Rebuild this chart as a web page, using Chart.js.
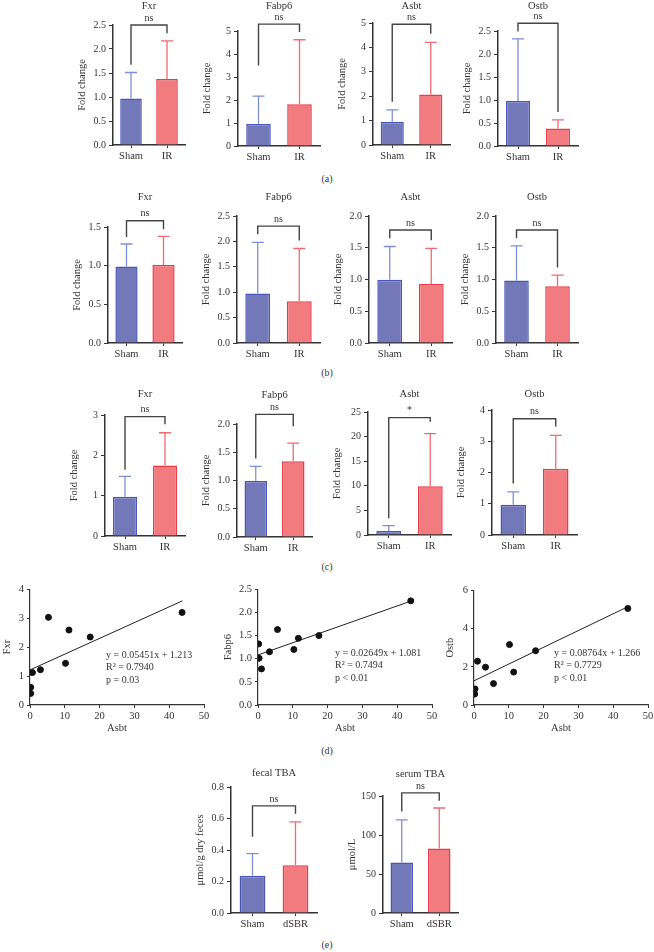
<!DOCTYPE html>
<html>
<head>
<meta charset="utf-8">
<script src="https://cdn.jsdelivr.net/npm/chart.js@4.4.0/dist/chart.umd.min.js"></script>
<style>
body { margin:0; background:#fff; width:654px; height:952px; position:relative; overflow:hidden; font-family:"Liberation Serif", serif; }
canvas { position:absolute; }
.panel { position:absolute; font-size:10px; color:#333; transform:translate(-50%,-50%); }
</style>
</head>
<body>
<div class="panel" style="left:327px;top:178px">(a)</div>
<div class="panel" style="left:327px;top:372px">(b)</div>
<div class="panel" style="left:327px;top:566px">(c)</div>
<div class="panel" style="left:327px;top:750px">(d)</div>
<div class="panel" style="left:327px;top:944px">(e)</div>
<script>
// ---- data ----
var genes = ['Fxr', 'Fabp6', 'Asbt', 'Ostb'];
var groups = ['Sham', 'IR'];
var groupsE = ['Sham', 'dSBR'];

// (a)
var aMean = [[0.97, 1.375], [0.96, 1.81], [0.95, 2.07], [0.98, 0.38]];
var aErr  = [[1.51, 2.17], [2.17, 4.62], [1.44, 4.21], [2.33, 0.57]];
var aMax  = [2.5, 5, 5, 2.5];
var aStep = [0.5, 1, 1, 0.5];
var aBracket = [[2.5, 1.67, 2.33], [5.3, 3.5, 4.96], [4.95, 1.77, 4.56], [2.67, 2.49, 0.74]];
var aSig = ['ns', 'ns', 'ns', 'ns'];

// (b)
var bMean = [[0.99, 1.01], [0.975, 0.82], [0.995, 0.93], [0.985, 0.895]];
var bErr  = [[1.28, 1.38], [1.98, 1.86], [1.52, 1.49], [1.53, 1.07]];
var bMax  = [1.5, 2.5, 2, 2];
var bStep = [0.5, 0.5, 0.5, 0.5];
var bBracket = [[1.58, 1.37, 1.47], [2.30, 2.14, 2.02], [1.78, 1.65, 1.62], [1.78, 1.65, 1.19]];
var bSig = ['ns', 'ns', 'ns', 'ns'];

// (c)
var cMean = [[0.975, 1.75], [0.99, 1.34], [0.81, 9.93], [0.97, 2.12]];
var cErr  = [[1.48, 2.56], [1.25, 1.66], [1.9, 20.6], [1.38, 3.19]];
var cMax  = [3, 2, 25, 4];
var cStep = [1, 0.5, 5, 1];
var cBracket = [[2.96, 1.64, 2.77], [2.17, 1.39, 1.96], [23.85, 3.4, 23.0], [3.72, 1.65, 3.47]];
var cSig = ['ns', 'ns', '*', 'ns'];

// (d)
var fxrX   = [0.2, 0.2, 0.7, 3.0, 5.3, 10.2, 11.2, 17.3, 43.7];
var fxrY   = [0.40, 0.61, 1.12, 1.22, 3.03, 1.44, 2.59, 2.35, 3.20];
var fabp6X = [0.2, 0.3, 1.0, 3.3, 5.6, 10.3, 11.6, 17.5, 43.9];
var fabp6Y = [1.32, 1.01, 0.78, 1.15, 1.63, 1.20, 1.44, 1.50, 2.25];
var ostbX  = [0.2, 0.3, 1.0, 3.3, 5.6, 10.2, 11.4, 17.7, 44.2];
var ostbY  = [0.57, 0.84, 2.29, 1.98, 1.12, 3.16, 1.72, 2.84, 5.05];
var fxrFit   = [[0, 1.213], [43.8, 3.601]];
var fabp6Fit = [[0, 1.081], [43.9, 2.244]];
var ostbFit  = [[0, 1.266], [44.2, 5.140]];
var fxrEq   = ['y = 0.05451x + 1.213', 'R\u00b2 = 0.7940', 'p = 0.03'];
var fabp6Eq = ['y = 0.02649x + 1.081', 'R\u00b2 = 0.7494', 'p < 0.01'];
var ostbEq  = ['y = 0.08764x + 1.266', 'R\u00b2 = 0.7729', 'p < 0.01'];

// (e)
var eNames = ['fecal TBA', 'serum TBA'];
var eYTitle = ['\u03bcmol/g dry feces', '\u03bcmol/L'];
var eMean = [[0.236, 0.303], [64.8, 82.7]];
var eErr  = [[0.377, 0.579], [119.3, 134.6]];
var eMax  = [0.8, 150];
var eStep = [0.2, 50];
var eBracket = [[0.68, 0.484, 0.63], [154, 130, 144]];
var eSig = ['ns', 'ns'];

// ---- page layout (pixels) ----
var layA = [
  {ax:113, right:185, top:25, bottom:145, titleY:6},
  {ax:238, right:320, top:31, bottom:146, titleY:6},
  {ax:373, right:450, top:23, bottom:145, titleY:6},
  {ax:498, right:578, top:31, bottom:146, titleY:6}
];
var layB = [
  {ax:108, right:182, top:227, bottom:343, titleY:197},
  {ax:237, right:320, top:216, bottom:343, titleY:197},
  {ax:369, right:452, top:216, bottom:343, titleY:197},
  {ax:496, right:578, top:216, bottom:343, titleY:197}
];
var layC = [
  {ax:105, right:185, top:415, bottom:536, titleY:394},
  {ax:237, right:312, top:424, bottom:537, titleY:395},
  {ax:368, right:451, top:412, bottom:535, titleY:394},
  {ax:492, right:577, top:410, bottom:535, titleY:394}
];
var layE = [
  {ax:231, right:317, top:787, bottom:913, titleY:773},
  {ax:383, right:458, top:796, bottom:913, titleY:774}
];
var layD = [
  {ax:30, right:204, top:588, bottom:705, ytd:23, eqX:76, eqY:655},
  {ax:258, right:432, top:588, bottom:705, ytd:30, eqX:77, eqY:653},
  {ax:474, right:648, top:589, bottom:705, ytd:24, eqX:80, eqY:653}
];

var blueFill = '#7378b8', blueLine = '#4a56b8', blueErr = '#7d8fd6';
var redFill = '#f27b7f', redLine = '#ea3c48', redErr = '#f06a72';
var axisCol = '#333', textCol = '#333';
var FONT = '"Liberation Serif", serif';

Chart.defaults.font.family = FONT;
Chart.defaults.font.size = 10;
Chart.defaults.color = textCol;

function addCanvas(left, top, w, h) {
  var cv = document.createElement('canvas');
  cv.width = w; cv.height = h;
  cv.style.left = left + 'px'; cv.style.top = top + 'px';
  cv.style.width = w + 'px'; cv.style.height = h + 'px';
  document.body.appendChild(cv);
  return cv;
}

function decimals(step) {
  return step < 1 ? 1 : 0;
}

function barChart(L, title, labels, mean, err, yMax, yStep, yTitle, bracket, sig) {
  var left = L.ax - 50, top = L.titleY - 9;
  var w = L.right - left + 8, h = L.bottom - top + 26;
  var cv = addCanvas(left, top, w, h);
  var dec = decimals(yStep);

  var extras = {
    id: 'extras',
    afterDatasetsDraw: function(chart) {
      var ctx = chart.ctx, ys = chart.scales.y, xs = chart.scales.x;
      var meta = chart.getDatasetMeta(0);
      ctx.save();
      // error bars
      meta.data.forEach(function(bar, i) {
        var yt = ys.getPixelForValue(err[i]);
        ctx.strokeStyle = i == 0 ? blueErr : redErr;
        ctx.lineWidth = 1.3;
        ctx.beginPath();
        ctx.moveTo(bar.x, bar.y);
        ctx.lineTo(bar.x, yt);
        ctx.moveTo(bar.x - 6, yt);
        ctx.lineTo(bar.x + 6, yt);
        ctx.stroke();
      });
      // bracket
      var x0 = xs.getPixelForValue(0), x1 = xs.getPixelForValue(1);
      var yb = ys.getPixelForValue(bracket[0]);
      ctx.strokeStyle = '#444';
      ctx.lineWidth = 1.4;
      ctx.beginPath();
      ctx.moveTo(x0, ys.getPixelForValue(bracket[1]));
      ctx.lineTo(x0, yb);
      ctx.lineTo(x1, yb);
      ctx.lineTo(x1, ys.getPixelForValue(bracket[2]));
      ctx.stroke();
      ctx.fillStyle = textCol;
      ctx.textAlign = 'center';
      ctx.textBaseline = 'middle';
      ctx.font = '10px ' + FONT;
      ctx.fillText(sig, (x0 + x1) / 2, yb - 7);
      // title
      ctx.font = '10.5px ' + FONT;
      ctx.fillText(title, (chart.chartArea.left + chart.chartArea.right) / 2, L.titleY - top);
      ctx.restore();
    }
  };

  new Chart(cv, {
    type: 'bar',
    data: {
      labels: labels,
      datasets: [{
        data: mean,
        backgroundColor: [blueFill, redFill],
        borderColor: [blueLine, redLine],
        borderWidth: 1.5,
        barPercentage: 0.6,
        categoryPercentage: 1
      }]
    },
    options: {
      responsive: false,
      animation: false,
      devicePixelRatio: 1,
      layout: { padding: { top: L.top - top, right: 8, left: 0, bottom: 0 } },
      plugins: { legend: { display: false }, tooltip: { enabled: false } },
      scales: {
        x: {
          grid: { drawOnChartArea: false, offset: false, tickLength: 3, color: axisCol },
          border: { color: axisCol, width: 1.5 },
          ticks: { padding: 2, color: textCol, font: { size: 10.5 } },
          afterFit: function(s) { s.height = 26; }
        },
        y: {
          min: 0, max: yMax,
          ticks: { stepSize: yStep, padding: 3, color: textCol, font: { size: 10 },
                   callback: function(v) { return v.toFixed(dec); } },
          grid: { drawOnChartArea: false, tickLength: 4, color: axisCol },
          border: { color: axisCol, width: 1.5 },
          title: { display: true, text: yTitle, color: textCol, font: { size: 10.5 }, padding: { top: 13 } },
          afterFit: function(s) { s.width = 50; }
        }
      }
    },
    plugins: [extras]
  });
}

function scatterChart(L, xs, ys, fit, eq, yTitle, yMax, yStep) {
  var left = L.ax - 34, top = L.top - 8;
  var w = L.right - left + 10, h = L.bottom - top + 30;
  var cv = addCanvas(left, top, w, h);
  var dec = decimals(yStep);
  var pts = xs.map(function(x, i) { return { x: x, y: ys[i] }; });

  var eqText = {
    id: 'eqText',
    afterDatasetsDraw: function(chart) {
      var ctx = chart.ctx;
      ctx.save();
      ctx.fillStyle = textCol;
      ctx.font = '10px ' + FONT;
      ctx.textAlign = 'left';
      ctx.textBaseline = 'middle';
      eq.forEach(function(t, i) {
        ctx.fillText(t, chart.chartArea.left + L.eqX, L.eqY - top + i * 12.5);
      });
      ctx.restore();
    }
  };

  new Chart(cv, {
    type: 'scatter',
    data: {
      datasets: [
        { data: pts, backgroundColor: '#111', borderColor: '#111', pointRadius: 3, pointHoverRadius: 3 },
        { type: 'line', data: fit.map(function(p) { return { x: p[0], y: p[1] }; }),
          borderColor: '#222', borderWidth: 1, pointRadius: 0, fill: false }
      ]
    },
    options: {
      responsive: false,
      animation: false,
      devicePixelRatio: 1,
      layout: { padding: { top: 8, right: 10, left: 0, bottom: 0 } },
      plugins: { legend: { display: false }, tooltip: { enabled: false } },
      scales: {
        x: {
          type: 'linear', min: 0, max: 50,
          ticks: { stepSize: 10, padding: 2, color: textCol, font: { size: 10.5 } },
          grid: { drawOnChartArea: false, tickLength: 3, color: axisCol },
          border: { color: axisCol, width: 1.2 },
          title: { display: true, text: 'Asbt', color: textCol, font: { size: 10.5 }, padding: { top: 0, bottom: 0 } },
          afterFit: function(s) { s.height = 30; }
        },
        y: {
          min: 0, max: yMax,
          ticks: { stepSize: yStep, padding: 3, color: textCol, font: { size: 10.5 },
                   callback: function(v) { return v.toFixed(dec); } },
          grid: { drawOnChartArea: false, tickLength: 3, color: axisCol },
          border: { color: axisCol, width: 1.2 },
          title: { display: true, text: yTitle, color: textCol, font: { size: 10.5 }, padding: { top: 34 - L.ytd - 6 } },
          afterFit: function(s) { s.width = 34; }
        }
      }
    },
    plugins: [eqText]
  });
}

for (var i = 0; i < 4; i++) {
  barChart(layA[i], genes[i], groups, aMean[i], aErr[i], aMax[i], aStep[i], 'Fold change', aBracket[i], aSig[i]);
  barChart(layB[i], genes[i], groups, bMean[i], bErr[i], bMax[i], bStep[i], 'Fold change', bBracket[i], bSig[i]);
  barChart(layC[i], genes[i], groups, cMean[i], cErr[i], cMax[i], cStep[i], 'Fold change', cBracket[i], cSig[i]);
}
for (var j = 0; j < 2; j++) {
  barChart(layE[j], eNames[j], groupsE, eMean[j], eErr[j], eMax[j], eStep[j], eYTitle[j], eBracket[j], eSig[j]);
}

scatterChart(layD[0], fxrX, fxrY, fxrFit, fxrEq, 'Fxr', 4, 1);
scatterChart(layD[1], fabp6X, fabp6Y, fabp6Fit, fabp6Eq, 'Fabp6', 2.5, 0.5);
scatterChart(layD[2], ostbX, ostbY, ostbFit, ostbEq, 'Ostb', 6, 2);
</script>
</body>
</html>
